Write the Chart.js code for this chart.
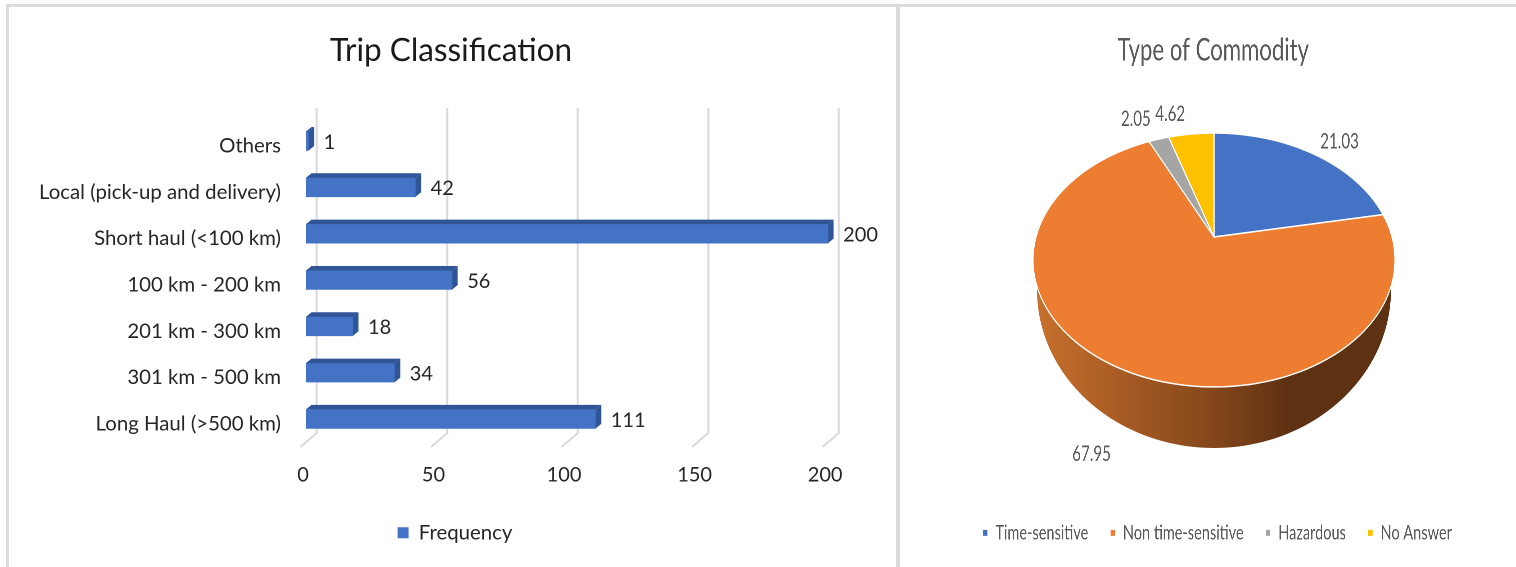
<!DOCTYPE html>
<html>
<head>
<meta charset="utf-8">
<title>Trip Classification and Type of Commodity</title>
<script src="https://cdn.jsdelivr.net/npm/chart.js@4"></script>
<style>
  html, body { margin: 0; background: #fff; overflow: hidden; }
  body { width: 1516px; height: 567px; position: relative; }
  .rule { position: absolute; background: #dcdcdc; z-index: 2; }
  #tripBox { position: absolute; left: 0; top: 0; width: 902px; height: 567px; }
  #commodityBox { position: absolute; left: 905px; top: 0; width: 856px; height: 567px;
                  transform-origin: 0 0; transform: scaleX(0.72); }
</style>
</head>
<body>
<div class="rule" style="left:6px;top:4px;width:1510px;height:3px"></div>
<div class="rule" style="left:6px;top:4px;width:3px;height:563px"></div>
<div class="rule" style="left:896px;top:4px;width:4px;height:563px"></div>
<div id="tripBox"><canvas id="tripChart"></canvas></div>
<div id="commodityBox"><canvas id="commodityChart"></canvas></div>
<script>
// Bar chart values, top row first
const tripLabels = ["Others", "Local (pick-up and delivery)", "Short haul (<100 km)", "100 km - 200 km",
                    "201 km - 300 km", "301 km - 500 km", "Long Haul (>500 km)"];
const tripFrequency = [1, 42, 200, 56, 18, 34, 111];
const tripTicks = [0, 50, 100, 150, 200];

// Pie chart values (they add up to 95.65, as printed in the picture)
const commodityLabels = ["Time-sensitive", "Non time-sensitive", "Hazardous", "No Answer"];
const commodityShares = [21.03, 67.95, 2.05, 4.62];
const commodityColors = ["#4472c4", "#ed7d31", "#a5a5a5", "#ffc000"];

const FONT = "Lato";
const squeeze = 0.72;

// moves the legend sideways without touching the title
const legendNudge = px => ({
  id: "legendNudge",
  afterLayout(chart) {
    chart.legend.left += px;
    chart.legend.right += px;
  }
});

// fake 3D for the bars: back wall grid, floor lines and bar faces
const bar3d = {
  id: "bar3d",
  beforeDatasetsDraw(chart) {
    const ctx = chart.ctx, x = chart.scales.x;
    ctx.save();
    ctx.strokeStyle = "#d9d9d9";
    ctx.lineWidth = 2;
    x.ticks.forEach(t => {
      const px = x.getPixelForValue(t.value);
      ctx.beginPath();
      ctx.moveTo(px + 10.7, 108);
      ctx.lineTo(px + 10.7, 433);
      ctx.lineTo(px - 5.5, 447);
      ctx.stroke();
    });
    ctx.restore();
  },
  afterDatasetsDraw(chart) {
    const ctx = chart.ctx, dx = 5.5, dy = -4.5;
    ctx.save();
    chart.getDatasetMeta(0).data.forEach((bar, i) => {
      const top = bar.y - bar.height / 2, bottom = bar.y + bar.height / 2;
      ctx.fillStyle = "#2f5597";
      ctx.beginPath();
      ctx.moveTo(bar.base, top);
      ctx.lineTo(bar.base + dx, top + dy);
      ctx.lineTo(bar.x + dx, top + dy);
      ctx.lineTo(bar.x, top);
      ctx.closePath();
      ctx.fill();
      ctx.beginPath();
      ctx.moveTo(bar.x, top);
      ctx.lineTo(bar.x + dx, top + dy);
      ctx.lineTo(bar.x + dx, bottom + dy);
      ctx.lineTo(bar.x, bottom);
      ctx.closePath();
      ctx.fill();
      ctx.fillStyle = "#262626";
      ctx.font = "20px " + FONT;
      ctx.textAlign = "left";
      ctx.textBaseline = "middle";
      ctx.fillText(tripFrequency[i], bar.x + 15, bar.y + 1.5);
    });
    ctx.restore();
  }
};

new Chart(document.getElementById("tripChart"), {
  type: "bar",
  data: {
    labels: tripLabels,
    datasets: [{ label: "Frequency", data: tripFrequency, backgroundColor: "#4472c4", barThickness: 19 }]
  },
  options: {
    indexAxis: "y",
    responsive: true,
    maintainAspectRatio: false,
    animation: false,
    devicePixelRatio: 2,
    layout: { padding: { bottom: 14 } },
    scales: {
      x: {
        // the plot runs on past 200 to the panel edge, only the listed ticks are shown
        min: 0, max: 228.3,
        afterBuildTicks(s) { s.ticks = tripTicks.map(value => ({ value })); },
        afterFit(s) { s.height = 70.5; },
        border: { display: false },
        grid: { display: false, drawTicks: false },
        ticks: { labelOffset: -3, padding: 21, maxRotation: 0, align: "center",
                 color: "#262626", font: { family: FONT, size: 20 } }
      },
      y: {
        afterFit(s) { s.width = 306; },
        border: { display: false },
        grid: { display: false, drawTicks: false },
        ticks: { padding: 25, labelOffset: 5, autoSkip: false,
                 color: "#262626", font: { family: FONT, size: 20.4 } }
      }
    },
    plugins: {
      title: { display: true, text: "Trip Classification", color: "#1a1a1a",
               padding: { top: 32, bottom: 48 }, font: { family: FONT, size: 31.5, weight: "normal" } },
      legend: { position: "bottom",
                labels: { boxWidth: 11, boxHeight: 11, padding: 10, color: "#262626",
                          font: { family: FONT, size: 20.4 } } },
      tooltip: { enabled: false }
    }
  },
  plugins: [bar3d, legendNudge(4)]
});

// perspective view of the pie disc; x, y are page pixels, turned into canvas x below
const pieX = 1214, pieY = 237, pieA = 178, pieS = 122.8, pieK = 0.181;
function rim(theta) {
  const X = Math.sin(theta), Y = Math.cos(theta), w = 1 + pieK * Y;
  return [pieX + pieA * X / w, pieY - pieS * Y / w];
}
const toLocal = px => (px - 905) / squeeze;

// label position relative to the rim point in the middle of each slice
const labelShift = [[26, -12], [-26, 87], [-23, -20], [-21, -20]];

const pie3d = {
  id: "pie3d",
  beforeDatasetsDraw(chart) {
    const ctx = chart.ctx, arcs = chart.getDatasetMeta(0).data;
    ctx.save();
    // side wall of the disc, its lower outline is a half ellipse
    const grad = ctx.createLinearGradient(toLocal(1035), 0, toLocal(1290), 0);
    grad.addColorStop(0, "#c9702d");
    grad.addColorStop(0.7, "#84471b");
    grad.addColorStop(1, "#5e3113");
    ctx.fillStyle = grad;
    ctx.beginPath();
    ctx.moveTo(toLocal(1037), 260);
    for (let a = 180; a >= 0; a -= 2) {
      const r = a * Math.PI / 180;
      ctx.lineTo(toLocal(pieX + 177 * Math.cos(r)), 290 + 158 * Math.sin(r));
    }
    ctx.lineTo(toLocal(1391), 260);
    ctx.closePath();
    ctx.fill();
    // top face, angles come from the pie controller
    arcs.forEach((arc, i) => {
      const from = arc.startAngle + Math.PI / 2, to = arc.endAngle + Math.PI / 2;
      ctx.beginPath();
      ctx.moveTo(toLocal(pieX), pieY);
      for (let n = 0; n <= 120; n++) {
        const p = rim(from + (to - from) * n / 120);
        ctx.lineTo(toLocal(p[0]), p[1]);
      }
      ctx.closePath();
      ctx.fillStyle = commodityColors[i];
      ctx.fill();
      ctx.strokeStyle = "#fff";
      ctx.lineWidth = 1.5;
      ctx.lineJoin = "round";
      ctx.stroke();
    });
    // values
    ctx.fillStyle = "#595959";
    ctx.font = "21px " + FONT;
    ctx.textAlign = "center";
    ctx.textBaseline = "middle";
    arcs.forEach((arc, i) => {
      const p = rim((arc.startAngle + arc.endAngle) / 2 + Math.PI / 2);
      ctx.fillText(commodityShares[i].toFixed(2), toLocal(p[0] + labelShift[i][0]), p[1] + labelShift[i][1]);
    });
    ctx.restore();
    return false; // native flat arcs are not wanted
  }
};

new Chart(document.getElementById("commodityChart"), {
  type: "pie",
  data: {
    labels: commodityLabels,
    datasets: [{ data: commodityShares, backgroundColor: commodityColors }]
  },
  options: {
    responsive: true,
    maintainAspectRatio: false,
    animation: false,
    devicePixelRatio: 2,
    layout: { padding: { bottom: 14 } },
    plugins: {
      title: { display: true, text: "Type of Commodity", color: "#595959",
               padding: { top: 32, bottom: 50 }, font: { family: FONT, size: 30.8, weight: "normal" } },
      legend: { position: "bottom",
                labels: { boxWidth: 8, boxHeight: 8, padding: 30, color: "#595959",
                          font: { family: FONT, size: 20.2 } } },
      tooltip: { enabled: false }
    }
  },
  plugins: [pie3d, legendNudge(5.5)]
});
</script>
</body>
</html>
